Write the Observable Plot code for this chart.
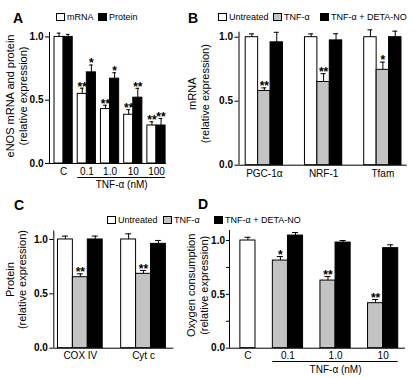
<!DOCTYPE html>
<html>
<head>
<meta charset="utf-8">
<script src="https://cdn.jsdelivr.net/npm/d3@7"></script>
<script src="https://cdn.jsdelivr.net/npm/@observablehq/plot@0.6"></script>
<style>
  html, body { margin: 0; padding: 0; background: #fff; }
  #fig { position: relative; width: 415px; height: 378px; overflow: hidden; background: #fff;
         font-family: "Liberation Sans", Arial, Helvetica, sans-serif; color: #000; }
  .panel { position: absolute; }
  .letter { position: absolute; font-weight: bold; font-size: 14px; line-height: 14px; }
  .item { position: absolute; display: flex; align-items: center; font-size: 9px; line-height: 10px; white-space: nowrap; }
  .sw { width: 9px; height: 8px; border: 1px solid #000; box-sizing: border-box; margin-right: 2px; }
</style>
</head>
<body>
<div id="fig"></div>
<script>
// ---------- Panel A : eNOS mRNA and protein ----------
const aDoses = ["C", "0.1", "1.0", "10", "100"];
const aMrna = [1.0, 0.55, 0.43, 0.385, 0.30];
const aMrnaErr = [0.03, 0.045, 0.03, 0.04, 0.03];
const aMrnaSig = ["", "**", "**", "**", "**"];
const aProtein = [1.0, 0.72, 0.67, 0.52, 0.30];
const aProteinErr = [0.02, 0.058, 0.047, 0.074, 0.055];
const aProteinSig = ["", "*", "*", "**", "**"];

// ---------- Panel B : mRNA of PGC-1α, NRF-1, Tfam ----------
const bGenes = ["PGC-1α", "NRF-1", "Tfam"];
const bUntreated = [1.0, 1.0, 1.0];
const bUntreatedErr = [0.026, 0.026, 0.057];
const bTnf = [0.58, 0.65, 0.745];
const bTnfErr = [0.024, 0.065, 0.06];
const bTnfSig = ["**", "**", "*"];
const bDeta = [0.96, 0.975, 1.0];
const bDetaErr = [0.078, 0.052, 0.047];

// ---------- Panel C : Protein ----------
const cProteins = ["COX IV", "Cyt c"];
const cUntreated = [1.0, 1.0];
const cUntreatedErr = [0.031, 0.052];
const cTnf = [0.653, 0.684];
const cTnfErr = [0.031, 0.031];
const cTnfSig = ["**", "**"];
const cDeta = [1.0, 0.96];
const cDetaErr = [0.031, 0.031];

// ---------- Panel D : Oxygen consumption ----------
const dDoses = ["C", "0.1", "1.0", "10"];
const dUntreated = [1.0, null, null, null];
const dUntreatedErr = [0.03, null, null, null];
const dTnf = [null, 0.814, 0.628, 0.418];
const dTnfErr = [null, 0.037, 0.037, 0.034];
const dTnfSig = ["", "*", "**", "**"];
const dDeta = [null, 1.046, 0.981, 0.929];
const dDetaErr = [null, 0.028, 0.019, 0.031];

const yTickValues = [0, 0.5, 1.0];
const yMinorTicks = [0, 0.25, 0.5, 0.75, 1.0];

const GRAY = "#c3c3c3";
const seriesFill = {"mRNA": "#fff", "Protein": "#000", "Untreated": "#fff", "TNF-α": GRAY, "TNF-α + DETA-NO": "#000"};
const FONT = '"Liberation Sans", Arial, Helvetica, sans-serif';

function layout(groups, series, gap) {
  const bars = [], info = [];
  let pos = 0;
  groups.forEach((g, i) => {
    const start = pos;
    for (const s of series) {
      const v = s.values[i];
      if (v == null) continue;
      bars.push({group: g, series: s.name, value: v, top: v + s.errs[i],
                 sig: (s.sigs && s.sigs[i]) || "", x1: pos, x2: pos + 1, xc: pos + 0.5});
      pos += 1;
    }
    info.push({label: g, start, end: pos, center: (start + pos) / 2});
    pos += gap;
  });
  return {bars, info, end: pos - gap};
}

function panel(cfg) {
  const {bars, info, end} = layout(cfg.groups, cfg.series, cfg.gap);
  const x0 = -cfg.padL, x1 = end + cfg.padR;
  const cap = 0.2;
  const ticks = cfg.minor ? yMinorTicks : yTickValues;
  const marks = [
    Plot.rectY(bars, {x1: "x1", x2: "x2", y1: 0, y2: "value", fill: d => seriesFill[d.series], stroke: "#000", strokeWidth: 1}),
    Plot.ruleX(bars, {x: "xc", y1: "value", y2: "top", stroke: "#000", strokeWidth: 1}),
    Plot.ruleY(bars, {y: "top", x1: d => d.xc - cap, x2: d => d.xc + cap, stroke: "#000", strokeWidth: 1}),
    Plot.text(bars.filter(d => d.sig), {x: "xc", y: "top", text: "sig", dy: -1.5, fontSize: 12, fontWeight: "bold", lineAnchor: "middle"}),
    Plot.ruleY([0], {stroke: "#000", strokeWidth: 1}),
    Plot.ruleX([x0], {y1: 0, y2: cfg.yTop, stroke: "#000", strokeWidth: 1}),
    Plot.axisY({ticks, tickSize: cfg.tickSize ?? 4, tickPadding: cfg.tickPadding ?? 2,
                tickFormat: d => yTickValues.includes(d) ? d.toFixed(1) : "",
                fontWeight: "bold", fontSize: 10, label: null}),
    Plot.text(info, {x: "center", y: 0, text: "label", dy: cfg.labelDy, fontSize: 10, lineAnchor: "middle"}),
    Plot.text([cfg.title[0]], {frameAnchor: "left", text: d => d, rotate: -90, dx: cfg.tdx[0], dy: cfg.tdy, fontSize: 11, textAnchor: "middle", lineAnchor: "middle"}),
    Plot.text([cfg.title[1]], {frameAnchor: "left", text: d => d, rotate: -90, dx: cfg.tdx[1], dy: cfg.tdy, fontSize: 11, textAnchor: "middle", lineAnchor: "middle"})
  ];
  if (cfg.bracket) {
    const g = info.slice(1);
    const br = [{start: g[0].start, end: g[g.length - 1].end, label: cfg.bracket}];
    marks.push(Plot.ruleY(br, {y: 0, x1: "start", x2: "end", dy: cfg.brDy, stroke: "#000", strokeWidth: 1}));
    marks.push(Plot.text(br, {x: d => (d.start + d.end) / 2, y: 0, text: "label", dy: cfg.brTextDy, fontSize: 10, lineAnchor: "middle"}));
  }
  return Plot.plot({
    width: cfg.width, height: cfg.height,
    marginLeft: cfg.ml, marginRight: cfg.mr, marginTop: cfg.mt, marginBottom: cfg.mb,
    x: {domain: [x0, x1], axis: null},
    y: {domain: [0, cfg.yTop]},
    color: {type: "identity"},
    style: {background: "transparent", fontFamily: FONT, overflow: "visible", color: "#000"},
    marks
  });
}

const fig = document.getElementById("fig");
function place(node, left, top) {
  const d = document.createElement("div");
  d.className = "panel";
  d.style.left = left + "px"; d.style.top = top + "px";
  d.appendChild(node);
  fig.appendChild(d);
}
function letter(t, left, top) {
  const d = document.createElement("div");
  d.className = "letter"; d.textContent = t;
  d.style.left = left + "px"; d.style.top = top + "px";
  fig.appendChild(d);
}
function legendItem(t, fill, left, top) {
  const d = document.createElement("div");
  d.className = "item";
  d.style.left = left + "px"; d.style.top = top + "px";
  const s = document.createElement("span");
  s.className = "sw"; s.style.background = fill;
  const tx = document.createElement("span"); tx.textContent = t;
  d.appendChild(s); d.appendChild(tx);
  fig.appendChild(d);
}

// Panel A
place(panel({
  groups: aDoses,
  series: [{name: "mRNA", values: aMrna, errs: aMrnaErr, sigs: aMrnaSig},
           {name: "Protein", values: aProtein, errs: aProteinErr, sigs: aProteinSig}],
  gap: 0.55, padL: 0.55, padR: 0.1,
  width: 185, height: 190, ml: 49, mr: 19, mt: 32, mb: 27, yTop: 1.035,
  labelDy: 8, title: ["eNOS mRNA and protein", "(relative expression)"], tdx: [-39, -26], tdy: -2,
  bracket: "TNF-α (nM)", brDy: 14, brTextDy: 21
}), 0, 0);

// Panel B
place(panel({
  groups: bGenes,
  series: [{name: "Untreated", values: bUntreated, errs: bUntreatedErr},
           {name: "TNF-α", values: bTnf, errs: bTnfErr, sigs: bTnfSig},
           {name: "TNF-α + DETA-NO", values: bDeta, errs: bDetaErr}],
  gap: 1.77, padL: 0.54, padR: 0.46,
  width: 230, height: 190, ml: 53.5, mr: 8.3, mt: 31.7, mb: 25.3, yTop: 1.039,
  labelDy: 8.6, title: ["mRNA", "(relative expression)"], tdx: [-46.5, -33.5], tdy: -5
}), 185, 0);

// Panel C
place(panel({
  groups: cProteins,
  series: [{name: "Untreated", values: cUntreated, errs: cUntreatedErr},
           {name: "TNF-α", values: cTnf, errs: cTnfErr, sigs: cTnfSig},
           {name: "TNF-α + DETA-NO", values: cDeta, errs: cDetaErr}],
  gap: 1.24, padL: 0.28, padR: 0.53,
  width: 185, height: 188, ml: 53.3, mr: 11.7, mt: 40.5, mb: 30.3, yTop: 1.078,
  labelDy: 7.5, title: ["Protein", "(relative expression)"], tdx: [-43, -31], tdy: -10
}), 0, 190);

// Panel D
place(panel({
  groups: dDoses,
  series: [{name: "Untreated", values: dUntreated, errs: dUntreatedErr},
           {name: "TNF-α", values: dTnf, errs: dTnfErr, sigs: dTnfSig},
           {name: "TNF-α + DETA-NO", values: dDeta, errs: dDetaErr}],
  gap: 1.15, padL: 0.72, padR: 0.48, minor: true, tickSize: 3, tickPadding: 1.5,
  width: 230, height: 188, ml: 44, mr: 10, mt: 40, mb: 30.3, yTop: 1.093,
  labelDy: 7.5, title: ["Oxygen consumption", "(relative expression)"], tdx: [-38, -25.5], tdy: -4,
  bracket: "TNF-α (nM)", brDy: 13.3, brTextDy: 22
}), 185, 190);

letter("A", 13, 11);
letter("B", 188, 11);
letter("C", 14, 198);
letter("D", 198, 197);

legendItem("mRNA", "#fff", 56, 12);
legendItem("Protein", "#000", 98, 12);
legendItem("Untreated", "#fff", 218, 12);
legendItem("TNF-α", GRAY, 273, 12);
legendItem("TNF-α + DETA-NO", "#000", 320, 12);
legendItem("Untreated", "#fff", 107, 215);
legendItem("TNF-α", GRAY, 163, 215);
legendItem("TNF-α + DETA-NO", "#000", 214, 215);
</script>
</body>
</html>
